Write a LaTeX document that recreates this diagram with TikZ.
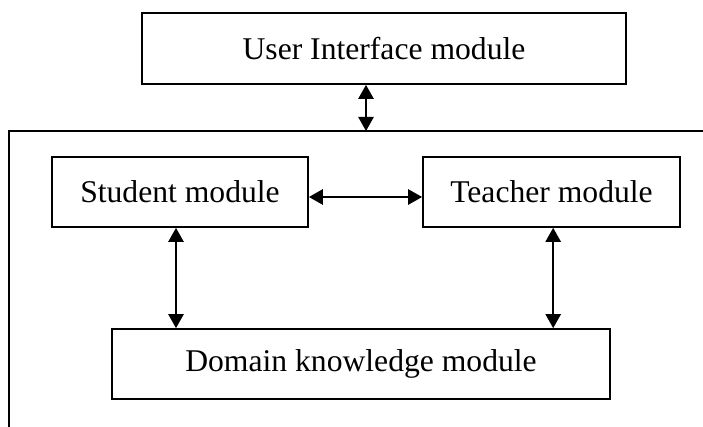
\documentclass[tikz,border=0pt]{standalone}
\usepackage{fontspec}
\setmainfont{Liberation Serif}
\usetikzlibrary{arrows.meta}

\tikzset{
    modbox/.style={draw, thick, line width=1.5pt, rectangle, minimum height=2.1cm,
        inner sep=0pt, font=\fontsize{27}{32}\selectfont},
    biarrow/.style={{Triangle[length=0.42cm,width=0.46cm]}-{Triangle[length=0.42cm,width=0.46cm]}, line width=1.3pt}
}

\begin{document}
\begin{tikzpicture}[x=0.03cm,y=-0.03cm]
        \useasboundingbox (0,0) rectangle (703,427);

        % Draw the user interface box on top
        \node[modbox, minimum width=14.52cm, minimum height=2.13cm] (ui) at (384,48.5) {User Interface module};

        % Draw the frame round the inner modules
        \coordinate (frame) at (9,131);
        \draw[line width=1.5pt] (9,427) -- (frame) -- (703,131);

        % Draw the inner modules
        \node[modbox, minimum width=7.68cm] (student) at (180,192) {Student module};
        \node[modbox, minimum width=7.71cm] (teacher) at (551.5,192) {Teacher module};
        \node[modbox, minimum width=14.94cm] (domain) at (361,364) {Domain knowledge module};

        % arrow from interface to frame
        \draw[biarrow] ([xshift=-0.54cm]ui.south) -- ([xshift=-0.54cm]ui.south |- frame);

        % arrow between student and teacher
        \draw[biarrow] ([yshift=-0.15cm]student.east) -- ([yshift=-0.15cm]teacher.west);

        % arrows down to the domain module
        \draw[biarrow] ([xshift=-0.12cm]student.south) -- ([xshift=-0.12cm]student.south |- domain.north);
        \draw[biarrow] ([xshift=0.05cm]teacher.south) -- ([xshift=0.05cm]teacher.south |- domain.north);
\end{tikzpicture}
\end{document}
